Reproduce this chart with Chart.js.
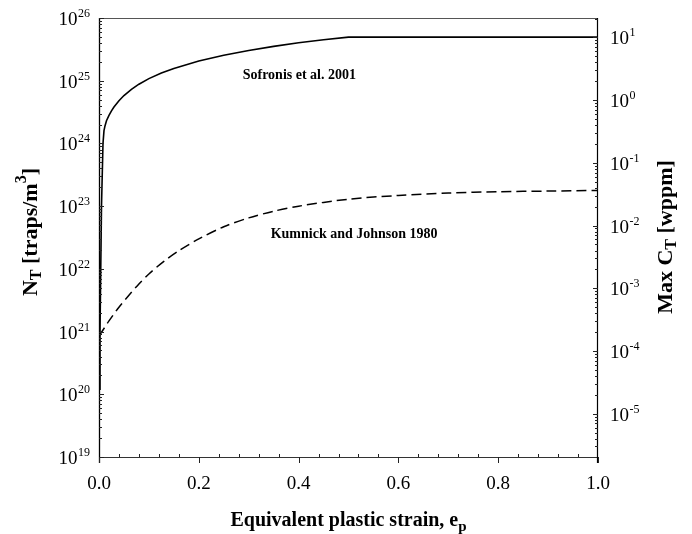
<!DOCTYPE html>
<html><head><meta charset="utf-8">
<script src="https://cdn.jsdelivr.net/npm/chart.js@4.4.1/dist/chart.umd.min.js"></script>
<style>html,body{margin:0;padding:0;background:#fff;}#wrap{width:692px;height:534px;}</style>
</head><body><div id="wrap"><canvas id="c" width="692" height="534"></canvas></div>
<script>
// ---- data ----
const strainSofronis = [0, 0.002, 0.005, 0.008, 0.01, 0.012, 0.015, 0.02, 0.025, 0.03, 0.04, 0.05, 0.065, 0.08, 0.1, 0.125, 0.15, 0.2, 0.25, 0.3, 0.35, 0.4, 0.45, 0.5, 1.0];
const trapsSofronis  = [1.2e20, 1e21, 1e23, 1.0e24, 1.6e24, 1.9e24, 2.3e24, 2.8e24, 3.3e24, 3.8e24, 4.8e24, 5.8e24, 7.3e24, 8.8e24, 1.08e25, 1.33e25, 1.57e25, 2.06e25, 2.55e25, 3.04e25, 3.53e25, 4.02e25, 4.5e25, 4.95e25, 4.95e25];
const strainKumnick  = [0, 0.01, 0.02, 0.04, 0.06, 0.08, 0.1, 0.13, 0.16, 0.2, 0.25, 0.3, 0.35, 0.4, 0.5, 0.6, 0.7, 0.8, 0.9, 1.0];
const trapsKumnick   = [8.5e20, 1.12e21, 1.48e21, 2.45e21, 3.8e21, 5.75e21, 8.3e21, 1.32e22, 1.95e22, 3.0e22, 4.7e22, 6.5e22, 8.3e22, 1.0e23, 1.29e23, 1.48e23, 1.62e23, 1.70e23, 1.74e23, 1.78e23];
const seriesNames = ['Sofronis et al. 2001', 'Kumnick and Johnson 1980'];
const xTickValues = [0, 0.2, 0.4, 0.6, 0.8, 1.0];
const leftTickExponents = [19, 20, 21, 22, 23, 24, 25, 26];
const rightTickExponents = [-5, -4, -3, -2, -1, 0, 1];
const leftAxisRange = [1e19, 1e26];
const rightAxisRange = [2.04e-6, 20.4];
// annotation anchors in data coordinates (strain, traps)
const annotationAnchors = [[0.288, 1.07e25], [0.344, 3.1e22]];

const FONT = "'Liberation Serif', 'Times New Roman', serif";

const drawPlugin = {
  id: 'decor',
  afterDraw(chart) {
    const ctx = chart.ctx, a = chart.chartArea;
    const xs = chart.scales.x, yl = chart.scales.y, yr = chart.scales.y2;
    ctx.save();
    ctx.lineCap = 'butt';
    // frame
    ctx.strokeStyle = '#555'; ctx.lineWidth = 1;
    ctx.beginPath(); ctx.moveTo(a.left, a.top + 0.5); ctx.lineTo(a.right, a.top + 0.5); ctx.stroke();
    ctx.strokeStyle = '#333';
    ctx.beginPath(); ctx.moveTo(a.left, a.bottom + 0.5); ctx.lineTo(a.right, a.bottom + 0.5); ctx.stroke();
    ctx.strokeStyle = '#000'; ctx.lineWidth = 1.3;
    ctx.beginPath(); ctx.moveTo(a.left + 0.5, a.top); ctx.lineTo(a.left + 0.5, a.bottom + 6); ctx.stroke();
    ctx.lineWidth = 1.2;
    ctx.beginPath(); ctx.moveTo(a.right - 0.5, a.top); ctx.lineTo(a.right - 0.5, a.bottom + 6); ctx.stroke();
    // left ticks
    ctx.lineWidth = 1; ctx.strokeStyle = '#222';
    for (let d = 19; d <= 26; d++) {
      for (let m = 1; m <= 9; m++) {
        const v = m * Math.pow(10, d);
        if (v < leftAxisRange[0] * 0.999 || v > leftAxisRange[1] * 1.001) continue;
        const y = Math.round(yl.getPixelForValue(v)) + 0.5;
        const len = m === 1 ? 5 : 3;
        ctx.beginPath(); ctx.moveTo(a.left, y); ctx.lineTo(a.left + len, y); ctx.stroke();
      }
    }
    // right ticks
    for (let d = -6; d <= 1; d++) {
      for (let m = 1; m <= 9; m++) {
        const v = m * Math.pow(10, d);
        if (v < rightAxisRange[0] || v > rightAxisRange[1]) continue;
        const y = Math.round(yr.getPixelForValue(v)) + 0.5;
        const len = m === 1 ? 5 : 3;
        ctx.beginPath(); ctx.moveTo(a.right, y); ctx.lineTo(a.right - len, y); ctx.stroke();
      }
    }
    // x ticks: majors downward, minors upward
    for (let i = 0; i <= 25; i++) {
      const v = i * 0.04;
      const x = Math.round(xs.getPixelForValue(v)) + 0.5;
      ctx.beginPath();
      if (i % 5 === 0) { ctx.moveTo(x, a.bottom); ctx.lineTo(x, a.bottom + 6); }
      else { ctx.moveTo(x, a.bottom); ctx.lineTo(x, a.bottom - 3); }
      ctx.stroke();
    }
    // y tick labels with superscripts
    ctx.fillStyle = '#000'; ctx.textBaseline = 'alphabetic'; ctx.textAlign = 'left';
    const baseF = '19px ' + FONT, supF = '12px ' + FONT;
    function power(x0, y, exp, alignRight) {
      ctx.font = baseF; const w1 = ctx.measureText('10').width;
      ctx.font = supF; const w2 = ctx.measureText(String(exp)).width;
      const sx = alignRight ? x0 - (w1 + w2 + 0.5) : x0;
      ctx.font = baseF; ctx.fillText('10', sx, y + 7);
      ctx.font = supF; ctx.fillText(String(exp), sx + w1 + 0.5, y - 1);
    }
    leftTickExponents.forEach(e => power(a.left - 9, yl.getPixelForValue(Math.pow(10, e)), e, true));
    rightTickExponents.forEach(e => power(a.right + 12, yr.getPixelForValue(Math.pow(10, e)), e, false));
    // rich text helper: segments [text, size, baselineOffset]
    function rich(segs, cx, cy, rot) {
      ctx.save(); ctx.translate(cx, cy); ctx.rotate(rot);
      let total = 0;
      segs.forEach(s => { ctx.font = 'bold ' + s[1] + 'px ' + FONT; s.w = ctx.measureText(s[0]).width; total += s.w; });
      let x = -total / 2;
      segs.forEach(s => { ctx.font = 'bold ' + s[1] + 'px ' + FONT; ctx.fillText(s[0], x, s[2]); x += s.w; });
      ctx.restore();
    }
    rich([['N', 22, 0], ['T', 16, 4], [' [traps/m', 22, 0], ['3', 16, -11], [']', 22, 0]], 37, 232, -Math.PI / 2);
    rich([['Max C', 22, 0], ['T', 16, 4], [' [wppm]', 22, 0]], 672, 237, -Math.PI / 2);
    rich([['Equivalent plastic strain, e', 20, 0], ['p', 15, 5]], (a.left + a.right) / 2, 526, 0);
    // series annotations
    ctx.font = 'bold 14px ' + FONT; ctx.textAlign = 'left';
    seriesNames.forEach((n, i) => {
      const p = annotationAnchors[i];
      ctx.fillText(n, xs.getPixelForValue(p[0]), yl.getPixelForValue(p[1]));
    });
    ctx.restore();
  }
};

new Chart(document.getElementById('c'), {
  type: 'line',
  data: {
    datasets: [
      { label: seriesNames[0], data: strainSofronis.map((x, i) => ({ x, y: trapsSofronis[i] })),
        borderColor: '#000', borderWidth: 1.6, pointRadius: 0, tension: 0, yAxisID: 'y' },
      { label: seriesNames[1], data: strainKumnick.map((x, i) => ({ x, y: trapsKumnick[i] })),
        borderColor: '#000', borderWidth: 1.5, borderDash: [10, 5], pointRadius: 0, tension: 0.3, yAxisID: 'y' }
    ]
  },
  options: {
    responsive: false, devicePixelRatio: 1, animation: false,
    layout: { padding: { top: 18, left: 0, right: 0, bottom: 0 } },
    plugins: { legend: { display: false }, tooltip: { enabled: false } },
    scales: {
      x: {
        type: 'linear', position: 'bottom', min: 0, max: 1, bounds: 'data',
        grid: { display: false, drawTicks: false }, border: { display: false },
        afterBuildTicks: s => { s.ticks = xTickValues.map(v => ({ value: v })); },
        ticks: { callback: v => Number(v).toFixed(1), font: { family: FONT, size: 19 }, color: '#000', padding: 16, maxRotation: 0, autoSkip: false },
        afterFit: s => { s.height = 77; }
      },
      y: {
        type: 'logarithmic', position: 'left', min: leftAxisRange[0], max: leftAxisRange[1], bounds: 'data',
        grid: { display: false, drawTicks: false }, border: { display: false }, ticks: { display: false },
        afterFit: s => { s.width = 99; }
      },
      y2: {
        type: 'logarithmic', position: 'right', min: rightAxisRange[0], max: rightAxisRange[1], bounds: 'data',
        grid: { display: false, drawTicks: false }, border: { display: false }, ticks: { display: false },
        afterFit: s => { s.width = 94; }
      }
    }
  },
  plugins: [drawPlugin]
});
</script></body></html>
